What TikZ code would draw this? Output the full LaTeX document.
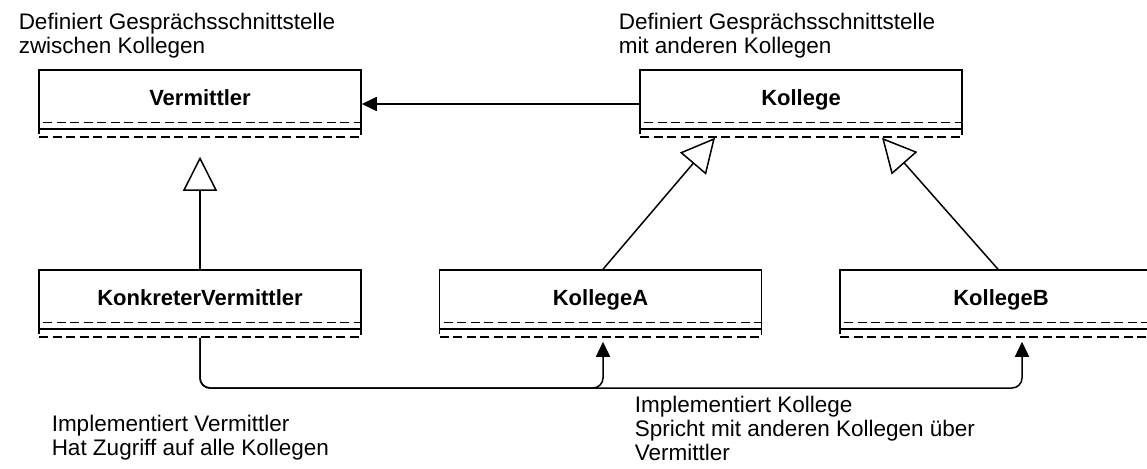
\documentclass[tikz,border=0pt]{standalone}
\usepackage{fontspec}
\setmainfont{Liberation Sans}
\usetikzlibrary{arrows.meta}
\begin{document}
\begin{tikzpicture}[x=1pt,y=-1pt,
  line width=1.5pt,
  classhead/.style={draw, minimum width=322pt, minimum height=59pt, inner sep=0pt,
    text height=16pt, text depth=4pt, font=\fontsize{22}{26}\selectfont\bfseries},
  classops/.style={draw, dash pattern=on 9pt off 4.5pt, minimum width=322pt,
    minimum height=8pt, inner sep=0pt},
  note/.style={anchor=north west, align=left, inner sep=0pt,
    font=\fontsize{22.5}{24}\selectfont},
  inherit/.style={-{Triangle[open,length=34pt,width=34pt]}},
  assoc/.style={-{Triangle[length=15pt,width=14pt]}},
  bus/.style={rounded corners=10pt, -{Triangle[length=15pt,width=14pt]}}
]
\useasboundingbox (0,0) rectangle (1147,468);

% class boxes: name compartment plus empty attribute/operation compartments
\node[classhead] (verm) at (200,99.5) {Vermittler};
\node[classops]  (vermops) at (200,133) {};
\node[classhead] (koll) at (801,99.5) {Kollege};
\node[classops]  (kollops) at (801,133) {};
\node[classhead] (kv) at (200,299.5) {KonkreterVermittler};
\node[classops]  (kvops) at (200,333) {};
\node[classhead] (ka) at (600.5,299.5) {KollegeA};
\node[classops]  (kaops) at (600.5,333) {};
\node[classhead] (kb) at (1001,299.5) {KollegeB};
\node[classops]  (kbops) at (1001,333) {};

\foreach \c in {verm,koll,kv,ka,kb}
  \draw[dash pattern=on 9pt off 4.5pt]
    ([yshift=7.5pt,xshift=5pt]\c.south west) -- ([yshift=7.5pt]\c.south east);

% association from Kollege to Vermittler
\coordinate (kollin) at ([yshift=-4.5pt]koll.west);
\coordinate (vermin) at ([yshift=-4.5pt]verm.east);
\draw[assoc] (kollin) -- (vermin);

% generalisations
\draw[inherit, shorten >=19pt] (kv.north) -- (vermops.south);
\coordinate (kollA) at ([xshift=-86pt]kollops.south);
\coordinate (kollB) at ([xshift=81pt]kollops.south);
\draw[inherit] ([xshift=2.5pt]ka.north) -- (kollA);
\draw[inherit] ([xshift=-3pt]kb.north) -- (kollB);

% mediator links to the colleagues
\coordinate (busy) at (0,388);
\coordinate (ain) at ([xshift=2.5pt,yshift=-4pt]kaops.south);
\coordinate (bin) at ([xshift=21pt,yshift=-4pt]kbops.south);
\draw[bus] (kvops.south) |- (ain |- busy) -- (ain);
\draw[bus] (kvops.south) |- (bin |- busy) -- (bin);

% notes
\node[note] (n1) at (18,12) {Definiert Gesprächsschnittstelle\\zwischen Kollegen};
\node[note] (n2) at (618,12) {Definiert Gesprächsschnittstelle\\mit anderen Kollegen};
\node[note] (n3) at (51,414) {Implementiert Vermittler\\Hat Zugriff auf alle Kollegen};
\node[note] (n4) at (634,395) {Implementiert Kollege\\Spricht mit anderen Kollegen über\\Vermittler};
\end{tikzpicture}
\end{document}
